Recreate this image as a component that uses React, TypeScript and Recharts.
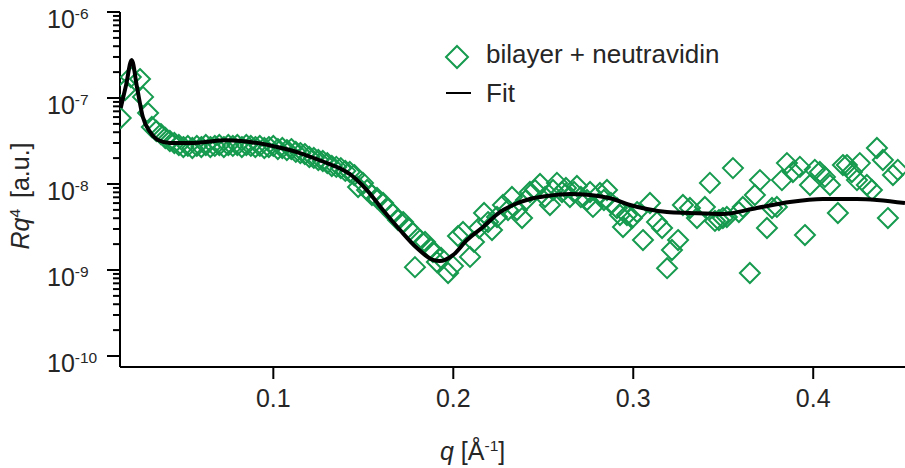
import React from 'react';
import { ScatterChart, Scatter, XAxis, YAxis, Legend } from 'recharts';

const GREEN = '#159a4e';
const INK = '#262626';
const FONT = '"Liberation Sans", Arial, Helvetica, sans-serif';

// bilayer + neutravidin, q in 1/Å
const dataQ = [
  0.0152, 0.0176, 0.0208, 0.0259, 0.0276, 0.0304,
  0.0325, 0.035, 0.0375, 0.04, 0.0425, 0.045, 0.0475, 0.05, 0.0525, 0.055,
  0.0575, 0.06, 0.0625, 0.065, 0.0675, 0.07, 0.0725, 0.075, 0.0775, 0.08,
  0.0825, 0.085, 0.0875, 0.09, 0.0925, 0.095, 0.0975, 0.1, 0.1025, 0.105,
  0.1075, 0.11, 0.1125, 0.115, 0.1175, 0.12, 0.1225, 0.125, 0.1275, 0.13,
  0.1325, 0.135, 0.1375, 0.14, 0.1425, 0.145,
  0.1471, 0.1498, 0.1521, 0.1548, 0.1576, 0.161, 0.1637, 0.1665, 0.1693, 0.1721,
  0.1748, 0.1776, 0.1787, 0.1815, 0.1843, 0.1871, 0.1887, 0.1909, 0.1932, 0.1971,
  0.1998, 0.2026, 0.2054, 0.2093, 0.2115, 0.2143, 0.2171, 0.2193, 0.2215, 0.2243,
  0.2276, 0.2304, 0.2326, 0.2354, 0.2382, 0.2404, 0.2426, 0.2454, 0.2482, 0.251,
  0.2537, 0.2554, 0.2576, 0.2604, 0.2626, 0.2648, 0.2671, 0.2687, 0.2709, 0.2743,
  0.276, 0.2776, 0.2815, 0.2837, 0.2854, 0.2876, 0.2909, 0.2926, 0.2943, 0.2965,
  0.2993, 0.3021, 0.3054, 0.3093, 0.3132, 0.316, 0.3188, 0.3215, 0.3249, 0.3276,
  0.3315, 0.3354, 0.3398, 0.3426, 0.3454, 0.3476, 0.3498, 0.352, 0.3554, 0.3587,
  0.3609, 0.3648, 0.3676, 0.3704, 0.3743, 0.3771, 0.3798, 0.3826, 0.3854, 0.3887,
  0.3926, 0.3954, 0.3982, 0.4009, 0.4037, 0.4065, 0.4093, 0.4137, 0.4165, 0.4187,
  0.4215, 0.4243, 0.4259, 0.4298, 0.4326, 0.4354, 0.4387, 0.4415, 0.4443, 0.447,
];
const dataR = [
  5.85e-8, 1.24e-7, 1.75e-7, 1.66e-7, 1.03e-7, 6.7e-8,
  4.6e-8, 4.13e-8, 3.81e-8, 3.43e-8, 3.16e-8, 3.0e-8, 2.84e-8, 2.69e-8, 2.77e-8, 2.62e-8,
  2.77e-8, 2.69e-8, 2.84e-8, 2.69e-8, 2.77e-8, 2.84e-8, 2.69e-8, 2.84e-8, 2.77e-8, 2.84e-8,
  2.69e-8, 2.84e-8, 2.77e-8, 2.69e-8, 2.77e-8, 2.62e-8, 2.69e-8, 2.77e-8, 2.55e-8, 2.62e-8,
  2.48e-8, 2.55e-8, 2.36e-8, 2.29e-8, 2.23e-8, 2.06e-8, 2.01e-8, 1.9e-8, 1.85e-8, 1.75e-8,
  1.62e-8, 1.58e-8, 1.53e-8, 1.42e-8, 1.38e-8, 1.27e-8,
  9.23e-9, 1.03e-8, 8.51e-9, 7.45e-9, 6.88e-9, 6.01e-9, 5.12e-9, 4.48e-9, 3.81e-9, 3.61e-9,
  3.08e-9, 2.69e-9, 1.08e-9, 2.23e-9, 2.12e-9, 1.8e-9, 1.62e-9, 1.24e-9, 1.38e-9, 9.23e-10,
  1.11e-9, 2.48e-9, 2.77e-9, 1.42e-9, 2.12e-9, 3.08e-9, 4.6e-9, 3.61e-9, 2.92e-9, 4.13e-9,
  5.7e-9, 4.99e-9, 7.06e-9, 4.99e-9, 4.02e-9, 6.52e-9, 8.07e-9, 8.51e-9, 1.0e-8, 7.06e-9,
  5.7e-9, 8.51e-9, 1.03e-8, 8.07e-9, 8.98e-9, 7.06e-9, 8.07e-9, 9.48e-9, 7.06e-9, 6.52e-9,
  8.07e-9, 5.41e-9, 7.86e-9, 6.52e-9, 8.51e-9, 6.01e-9, 5.26e-9, 4.36e-9, 3.16e-9, 4.36e-9,
  4.02e-9, 4.72e-9, 2.23e-9, 6.01e-9, 3.61e-9, 3.08e-9, 1.05e-9, 1.71e-9, 2.23e-9, 5.7e-9,
  5.26e-9, 4.02e-9, 5.41e-9, 1.03e-8, 3.72e-9, 3.81e-9, 4.02e-9, 4.13e-9, 1.53e-8, 4.72e-9,
  5.41e-9, 9.23e-10, 7.45e-9, 1.11e-8, 3.08e-9, 5.26e-9, 5.41e-9, 1.11e-8, 1.75e-8, 1.38e-8,
  1.58e-8, 2.55e-9, 9.74e-9, 1.46e-8, 1.38e-8, 1.21e-8, 9.74e-9, 4.6e-9, 1.66e-8, 1.66e-8,
  1.38e-8, 1.11e-8, 1.75e-8, 9.74e-9, 8.51e-9, 2.62e-8, 1.9e-8, 4.02e-9, 1.27e-8, 1.46e-8,
];

// Fit
const fitQ = [
  0.0152, 0.0182, 0.0213, 0.0243, 0.0275, 0.0315, 0.0359, 0.0426, 0.0537, 0.0743,
  0.087, 0.102, 0.1148, 0.1298, 0.137, 0.1426, 0.1475, 0.152, 0.1609, 0.1704,
  0.1798, 0.1887, 0.1926, 0.1998, 0.2076, 0.2165, 0.2259, 0.2332, 0.2426, 0.252,
  0.2648, 0.2759, 0.2887, 0.2982, 0.3076, 0.3187, 0.3315, 0.3498, 0.3687, 0.387,
  0.4054, 0.4243, 0.451,
];
const fitR = [
  7.65e-8, 1.42e-7, 2.77e-7, 1.31e-7, 6.0e-8, 4.03e-8, 3.25e-8, 3.0e-8, 3.0e-8, 3.22e-8,
  3.08e-8, 2.69e-8, 2.29e-8, 1.75e-8, 1.52e-8, 1.3e-8, 1.06e-8, 8.5e-9, 4.99e-9, 2.92e-9,
  1.8e-9, 1.31e-9, 1.27e-9, 1.49e-9, 2.23e-9, 3.16e-9, 4.72e-9, 5.7e-9, 6.7e-9, 7.25e-9,
  7.65e-9, 7.45e-9, 6.7e-9, 5.7e-9, 5.12e-9, 4.72e-9, 4.6e-9, 4.48e-9, 5.26e-9, 6.18e-9,
  6.7e-9, 6.7e-9, 6.0e-9,
];

const xTicks = [0.1, 0.2, 0.3, 0.4];
const yDecades = [1e-10, 1e-9, 1e-8, 1e-7, 1e-6];
const yMinorSteps = [2, 3, 4, 5, 6, 7, 8, 9];

const measured = dataQ.map((q, i) => ({ q, r: dataR[i] }));
const fit = fitQ.map((q, i) => ({ q, r: fitR[i] }));
const yTicks = [
  ...yDecades,
  ...yDecades.slice(0, -1).flatMap((d) => yMinorSteps.map((k) => k * d)),
].sort((a, b) => a - b);

const isDecade = (v: number) => yDecades.some((d) => Math.abs(d - v) / d < 1e-6);

function Diamond(props: any) {
  const { cx, cy } = props;
  if (cx == null || cy == null) return null;
  const s = 10;
  return (
    <path
      d={`M${cx},${cy - s}L${cx + s},${cy}L${cx},${cy + s}L${cx - s},${cy}Z`}
      fill="none"
      stroke={GREEN}
      strokeWidth={2}
    />
  );
}

const NoDot = () => <g />;

function YTick(props: any) {
  const { x, y, payload } = props;
  const v = payload.value;
  if (!isDecade(v)) {
    return <line x1={x - 7} x2={x} y1={y} y2={y} stroke="#000" strokeWidth={2} />;
  }
  const exp = Math.round(Math.log10(v));
  return (
    <g>
      <line x1={x - 13} x2={x} y1={y} y2={y} stroke="#000" strokeWidth={2} />
      <text x={x - 73} y={y + 16} fill={INK} fontSize={25} fontFamily={FONT}>
        10
        <tspan fontSize={15.5} dy={-9}>{exp}</tspan>
      </text>
    </g>
  );
}

function XTick(props: any) {
  const { x, y, payload } = props;
  return (
    <text x={x} y={y + 28} textAnchor="middle" fill={INK} fontSize={25} fontFamily={FONT}>
      {payload.value}
    </text>
  );
}

const XLabel = () => (
  <text x={440} y={460} fill={INK} fontSize={25} fontFamily={FONT}>
    <tspan fontStyle="italic">q</tspan>
    {'\u00A0[Å'}
    <tspan fontSize={15.5} dy={-9}>-1</tspan>
    <tspan dy={9}>]</tspan>
  </text>
);

const YLabel = () => (
  <text
    transform="translate(29,196) rotate(-90)"
    textAnchor="middle"
    fill={INK}
    fontSize={25}
    fontFamily={FONT}
  >
    <tspan fontStyle="italic">Rq</tspan>
    <tspan fontSize={15.5} dy={-9}>4</tspan>
    <tspan dy={9} dx={4}>{'\u00A0[a.u.]'}</tspan>
  </text>
);

const renderLegend = () => (
  <svg width={320} height={80} style={{ display: 'block' }}>
    <path d="M27,16L38,27L27,38L16,27Z" fill="none" stroke={GREEN} strokeWidth={2} />
    <text x={56} y={33} fill={INK} fontSize={26} fontFamily={FONT}>
      bilayer + neutravidin
    </text>
    <line x1={16} x2={41} y1={63} y2={63} stroke="#000" strokeWidth={2} />
    <text x={56} y={72} fill={INK} fontSize={26} fontFamily={FONT}>
      Fit
    </text>
  </svg>
);

export default function App() {
  return (
    <div style={{ position: 'absolute', left: 0, top: 0, background: '#fff' }}>
      <ScatterChart width={905} height={468} margin={{ top: 12, right: 0, bottom: 0, left: 0 }}>
        <XAxis
          type="number"
          dataKey="q"
          domain={[0.0148, 0.451]}
          allowDataOverflow
          ticks={xTicks}
          interval={0}
          height={101}
          tickSize={12}
          tickMargin={0}
          axisLine={{ stroke: '#000', strokeWidth: 2 }}
          tickLine={{ stroke: '#000', strokeWidth: 2 }}
          tick={<XTick />}
          label={XLabel}
        />
        <YAxis
          type="number"
          dataKey="r"
          scale="log"
          domain={[7.45e-11, 1e-6]}
          allowDataOverflow
          ticks={yTicks}
          interval={0}
          width={120}
          tickSize={0}
          tickMargin={0}
          axisLine={{ stroke: '#000', strokeWidth: 2 }}
          tickLine={false}
          tick={<YTick />}
          label={YLabel}
        />
        <Legend
          content={renderLegend}
          layout="vertical"
          align="center"
          verticalAlign="middle"
          wrapperStyle={{ left: 430, top: 30, width: 320, height: 80 }}
        />
        <Scatter
          name="bilayer + neutravidin"
          data={measured}
          shape={<Diamond />}
          isAnimationActive={false}
        />
        <Scatter
          name="Fit"
          data={fit}
          fill="#000"
          shape={NoDot}
          line={{ stroke: '#000', strokeWidth: 4 }}
          lineJointType="monotoneX"
          isAnimationActive={false}
        />
      </ScatterChart>
    </div>
  );
}
